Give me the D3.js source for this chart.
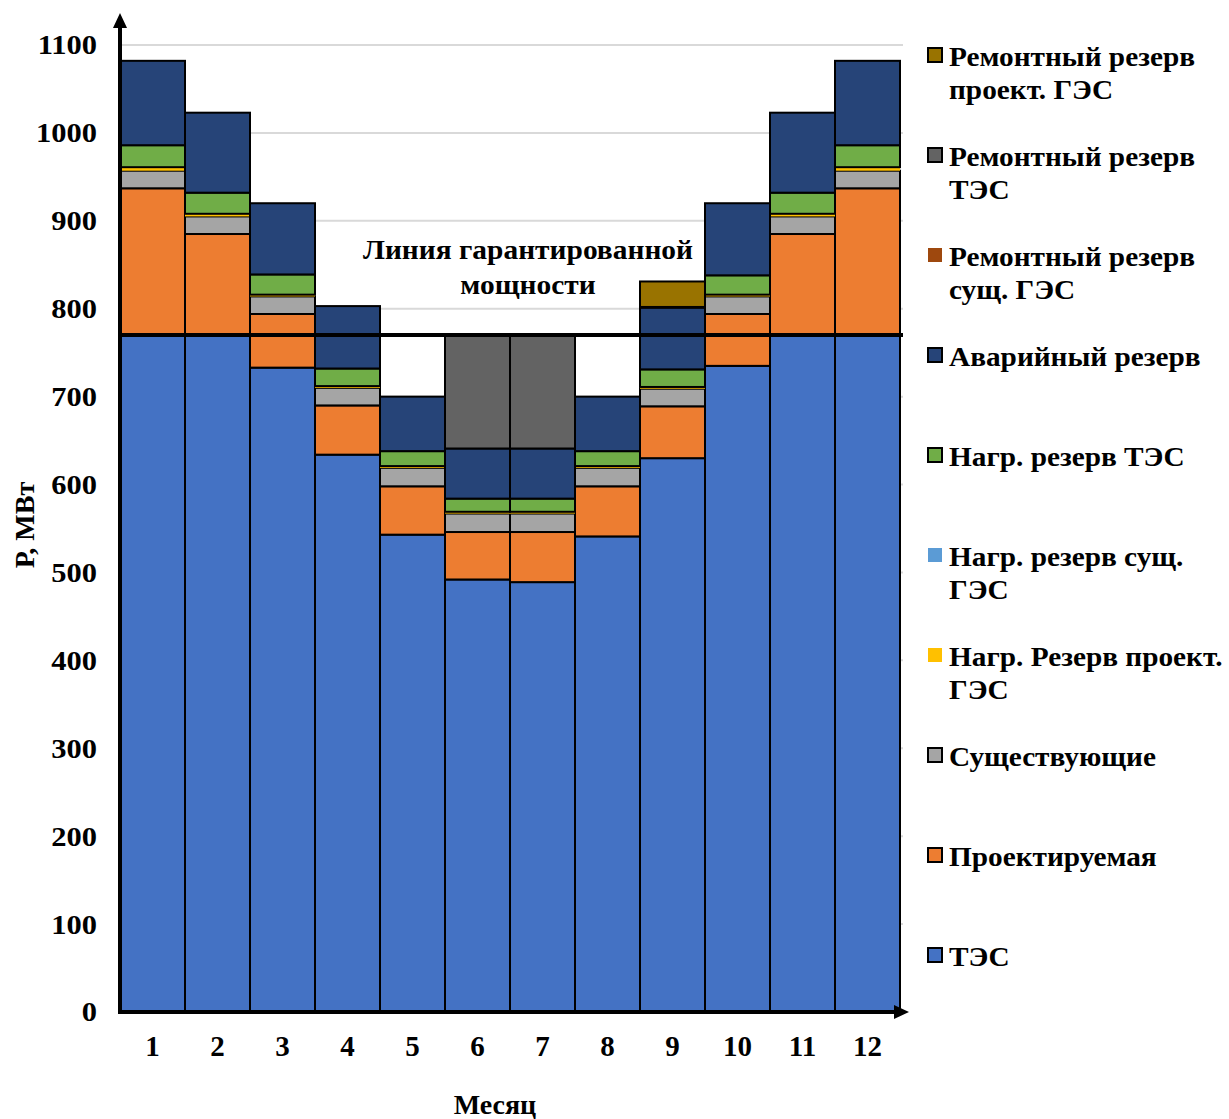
<!DOCTYPE html>
<html>
<head>
<meta charset="utf-8">
<script src="https://cdn.jsdelivr.net/npm/d3@7/dist/d3.min.js"></script>
<style>
  html, body { margin: 0; padding: 0; background: #fff; }
  svg { display: block; }
  text { font-family: "Liberation Serif", "Times New Roman", serif; font-weight: bold; fill: #000; }
</style>
</head>
<body>
<svg id="chart" width="1229" height="1119"></svg>
<script>
// Months on the x axis
const months = ["1", "2", "3", "4", "5", "6", "7", "8", "9", "10", "11", "12"];

// Power balance components, MW (stacked from the bottom up)
const tes          = [770, 770, 733, 634, 543, 492, 489, 541, 630, 735, 770, 770];
const designed     = [167, 115,  61,  56,  55,  54,  57,  57,  59,  59, 115, 167];
const existing     = [ 20,  20,  20,  20,  21,  21,  21,  21,  20,  20,  20,  20];
const loadResDesHy = [  4,   3,   2,   2,   2,   2,   2,   2,   2,   2,   3,   4];
const loadResExHy  = [  0,   0,   0,   0,   0,   0,   0,   0,   0,   0,   0,   0];
const loadResTes   = [ 25,  24,  23,  20,  17,  15,  15,  17,  20,  22,  24,  25];
const emergencyRes = [ 96,  91,  81,  71,  62,  57,  57,  62,  70,  82,  91,  96];
const repResExHy   = [  0,   0,   0,   0,   0,   0,   0,   0,   1,   0,   0,   0];
const repResTes    = [  0,   0,   0,   0,   0, 130, 130,   0,   0,   0,   0,   0];
const repResDesHy  = [  0,   0,   0,   0,   0,   0,   0,   0,  29,   0,   0,   0];

// Guaranteed capacity level, MW
const guaranteed = 770;

// Y axis tick values
const yTicks = [0, 100, 200, 300, 400, 500, 600, 700, 800, 900, 1000, 1100];

// Series definitions, bottom to top
const series = [
  { key: "tes",  name: ["ТЭС"],                              values: tes,          color: "#4472C4", border: true },
  { key: "des",  name: ["Проектируемая"],                    values: designed,     color: "#ED7D31", border: true },
  { key: "ex",   name: ["Существующие"],                     values: existing,     color: "#A5A5A5", border: true },
  { key: "lrdh", name: ["Нагр. Резерв проект.", "ГЭС"],      values: loadResDesHy, color: "#FFC000", border: false },
  { key: "lreh", name: ["Нагр. резерв сущ.", "ГЭС"],         values: loadResExHy,  color: "#5B9BD5", border: false },
  { key: "lrt",  name: ["Нагр. резерв ТЭС"],                 values: loadResTes,   color: "#70AD47", border: true },
  { key: "em",   name: ["Аварийный резерв"],                 values: emergencyRes, color: "#264478", border: true },
  { key: "rreh", name: ["Ремонтный резерв", "сущ. ГЭС"],     values: repResExHy,   color: "#9E480E", border: false },
  { key: "rrt",  name: ["Ремонтный резерв", "ТЭС"],          values: repResTes,    color: "#636363", border: true },
  { key: "rrdh", name: ["Ремонтный резерв", "проект. ГЭС"],  values: repResDesHy,  color: "#997300", border: true }
];

const table = months.map((m, i) => {
  const row = { month: m };
  series.forEach(s => { row[s.key] = s.values[i]; });
  return row;
});

const svg = d3.select("#chart");

const x = d3.scaleBand().domain(months).range([120, 900]).padding(0);
const y = d3.scaleLinear().domain([0, 1100]).range([1012, 45]);

// Gridlines
svg.append("g")
  .selectAll("line")
  .data(yTicks.filter(d => d > 0))
  .join("line")
  .attr("x1", 120).attr("x2", 903)
  .attr("y1", d => y(d)).attr("y2", d => y(d))
  .attr("stroke", "#d9d9d9")
  .attr("stroke-width", 2);

// Stacked bars
const stacked = d3.stack().keys(series.map(s => s.key))(table);

const layers = svg.append("g")
  .selectAll("g")
  .data(stacked)
  .join("g")
  .attr("fill", (d, i) => series[i].color)
  .attr("stroke", (d, i) => series[i].border ? "#000" : "none")
  .attr("stroke-width", 2);

layers.selectAll("rect")
  .data(d => d.map(p => ({ p, month: p.data.month })))
  .join("rect")
  .filter(d => d.p[1] - d.p[0] > 0)
  .attr("x", d => x(d.month))
  .attr("width", x.bandwidth())
  .attr("y", d => y(d.p[1]))
  .attr("height", d => y(d.p[0]) - y(d.p[1]));

// Guaranteed capacity line
svg.append("line")
  .attr("x1", 118).attr("x2", 903)
  .attr("y1", y(guaranteed)).attr("y2", y(guaranteed))
  .attr("stroke", "#000").attr("stroke-width", 4);

svg.append("g")
  .attr("transform", "translate(528,0) scale(1.09,1)")
  .append("text")
  .attr("text-anchor", "middle")
  .attr("font-size", 27)
  .selectAll("tspan")
  .data(["Линия гарантированной", "мощности"])
  .join("tspan")
  .attr("x", 0)
  .attr("y", (d, i) => 259 + i * 35)
  .text(d => d);

// Y axis with arrow
svg.append("line")
  .attr("x1", 120).attr("x2", 120)
  .attr("y1", y(0) + 2).attr("y2", 24)
  .attr("stroke", "#000").attr("stroke-width", 4);
svg.append("path")
  .attr("d", "M120,13 L113,28 L127,28 Z")
  .attr("fill", "#000");

// X axis with arrow
svg.append("line")
  .attr("x1", 118).attr("x2", 898)
  .attr("y1", y(0)).attr("y2", y(0))
  .attr("stroke", "#000").attr("stroke-width", 4);
svg.append("path")
  .attr("d", "M909,1012 L894,1005 L894,1019 Z")
  .attr("fill", "#000");

// Y tick labels (slightly widened bold serif)
svg.append("g")
  .selectAll("text")
  .data(yTicks)
  .join("text")
  .attr("transform", d => `translate(97,${y(d)}) scale(1.13,1)`)
  .attr("text-anchor", "end")
  .attr("dy", "0.35em")
  .attr("font-size", 27)
  .text(d3.format("d"));

// X tick labels
const xAxis = svg.append("g")
  .attr("transform", "translate(0,1035)")
  .call(d3.axisBottom(x).tickSize(0).tickPadding(0));
xAxis.select(".domain").remove();
xAxis.selectAll("text")
  .attr("font-family", "Liberation Serif")
  .attr("font-weight", "bold")
  .attr("font-size", 29)
  .attr("dy", "0.71em")
  .attr("fill", "#000");

// Axis titles
svg.append("text")
  .attr("x", 495).attr("y", 1114)
  .attr("text-anchor", "middle")
  .attr("font-size", 28)
  .text("Месяц");

svg.append("text")
  .attr("transform", "translate(34,525) rotate(-90)")
  .attr("text-anchor", "middle")
  .attr("font-size", 28)
  .text("Р, МВт");

// Legend, top entry is the last series of the stack
const legendItems = series.slice().reverse();
const legend = svg.append("g")
  .selectAll("g")
  .data(legendItems)
  .join("g")
  .attr("transform", (d, i) => `translate(0,${57 + i * 100})`);

legend.append("rect")
  .attr("x", 928).attr("y", -9)
  .attr("width", 14).attr("height", 14)
  .attr("fill", d => d.color)
  .attr("stroke", d => d.border ? "#000" : "none")
  .attr("stroke-width", 2);

legend.append("g")
  .attr("transform", "translate(949,0) scale(1.085,1)")
  .append("text")
  .attr("font-size", 27)
  .selectAll("tspan")
  .data(d => d.name)
  .join("tspan")
  .attr("x", 0)
  .attr("y", (d, i) => 9 + i * 33)
  .text(d => d);
</script>
</body>
</html>
